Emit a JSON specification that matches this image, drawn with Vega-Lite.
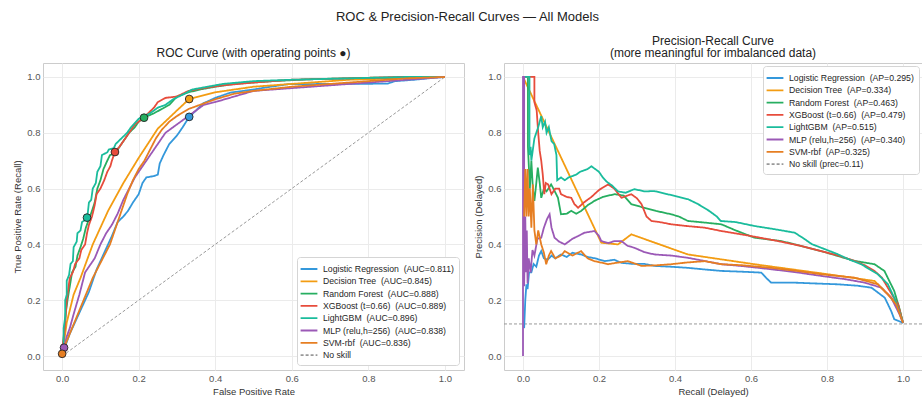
{
  "$schema": "https://vega.github.io/schema/vega-lite/v6.json",
  "background": "white",
  "padding": {"left": 12, "top": 11, "right": 0, "bottom": 0},
  "title": {"text": "ROC & Precision-Recall Curves — All Models", "fontSize": 13, "fontWeight": "normal", "color": "#222222", "anchor": "middle", "offset": 10},
  "config": {
    "font": "Liberation Sans",
    "view": {"stroke": "#cccccc", "strokeWidth": 1},
    "axis": {"labelFontSize": 9.5, "labelColor": "#555555", "titleFontSize": 9.5, "titleColor": "#333333", "titleFontWeight": "normal", "ticks": false, "domain": false, "gridColor": "#ebebeb", "labelPadding": 3, "titlePadding": 4},
    "legend": {"fillColor": "white", "strokeColor": "#d5d5d5", "cornerRadius": 3, "padding": 5, "labelFontSize": 8.7, "labelColor": "#262626", "symbolType": "M-1.4,0L1.4,0", "symbolSize": 144, "symbolStrokeWidth": 1.8, "rowPadding": 0.3, "labelOffset": 7, "labelLimit": 220},
    "title": {"fontSize": 12, "fontWeight": "normal", "color": "#222222"}
  },
  "datasets": {
    "roc": [
      {"m":"LR","x":0,"y":0},{"m":"LR","x":0.004,"y":0.02},{"m":"LR","x":0.012,"y":0.05},{"m":"LR","x":0.02,"y":0.08},{"m":"LR","x":0.03,"y":0.11},{"m":"LR","x":0.04,"y":0.14},{"m":"LR","x":0.05,"y":0.17},{"m":"LR","x":0.06,"y":0.2},{"m":"LR","x":0.07,"y":0.23},{"m":"LR","x":0.08,"y":0.27},{"m":"LR","x":0.09,"y":0.31},{"m":"LR","x":0.1,"y":0.34},{"m":"LR","x":0.11,"y":0.37},{"m":"LR","x":0.12,"y":0.4},{"m":"LR","x":0.13,"y":0.43},{"m":"LR","x":0.145,"y":0.48},{"m":"LR","x":0.16,"y":0.5},{"m":"LR","x":0.172,"y":0.52},{"m":"LR","x":0.185,"y":0.55},{"m":"LR","x":0.2,"y":0.58},{"m":"LR","x":0.21,"y":0.62},{"m":"LR","x":0.22,"y":0.64},{"m":"LR","x":0.24,"y":0.645},{"m":"LR","x":0.25,"y":0.65},{"m":"LR","x":0.255,"y":0.69},{"m":"LR","x":0.265,"y":0.72},{"m":"LR","x":0.28,"y":0.76},{"m":"LR","x":0.3,"y":0.79},{"m":"LR","x":0.315,"y":0.82},{"m":"LR","x":0.332,"y":0.857},{"m":"LR","x":0.35,"y":0.88},{"m":"LR","x":0.368,"y":0.905},{"m":"LR","x":0.4,"y":0.925},{"m":"LR","x":0.44,"y":0.944},{"m":"LR","x":0.5,"y":0.955},{"m":"LR","x":0.53,"y":0.962},{"m":"LR","x":0.59,"y":0.974},{"m":"LR","x":0.7,"y":0.975},{"m":"LR","x":0.85,"y":0.976},{"m":"LR","x":0.87,"y":0.985},{"m":"LR","x":0.92,"y":0.99},{"m":"LR","x":0.97,"y":0.997},{"m":"LR","x":1,"y":1},
      {"m":"DT","x":0,"y":0},{"m":"DT","x":0.005,"y":0.05},{"m":"DT","x":0.012,"y":0.12},{"m":"DT","x":0.03,"y":0.22},{"m":"DT","x":0.048,"y":0.28},{"m":"DT","x":0.08,"y":0.4},{"m":"DT","x":0.12,"y":0.52},{"m":"DT","x":0.16,"y":0.62},{"m":"DT","x":0.2,"y":0.71},{"m":"DT","x":0.25,"y":0.815},{"m":"DT","x":0.3,"y":0.88},{"m":"DT","x":0.332,"y":0.921},{"m":"DT","x":0.4,"y":0.945},{"m":"DT","x":0.5,"y":0.965},{"m":"DT","x":0.6,"y":0.975},{"m":"DT","x":0.75,"y":0.99},{"m":"DT","x":1,"y":1},
      {"m":"RF","x":0,"y":0},{"m":"RF","x":0.002,"y":0.04},{"m":"RF","x":0.006,"y":0.1},{"m":"RF","x":0.01,"y":0.16},{"m":"RF","x":0.014,"y":0.2},{"m":"RF","x":0.02,"y":0.25},{"m":"RF","x":0.026,"y":0.3},{"m":"RF","x":0.035,"y":0.32},{"m":"RF","x":0.04,"y":0.36},{"m":"RF","x":0.048,"y":0.39},{"m":"RF","x":0.055,"y":0.42},{"m":"RF","x":0.062,"y":0.46},{"m":"RF","x":0.07,"y":0.49},{"m":"RF","x":0.078,"y":0.52},{"m":"RF","x":0.085,"y":0.55},{"m":"RF","x":0.092,"y":0.6},{"m":"RF","x":0.1,"y":0.63},{"m":"RF","x":0.108,"y":0.67},{"m":"RF","x":0.118,"y":0.7},{"m":"RF","x":0.125,"y":0.72},{"m":"RF","x":0.135,"y":0.725},{"m":"RF","x":0.145,"y":0.74},{"m":"RF","x":0.16,"y":0.77},{"m":"RF","x":0.175,"y":0.8},{"m":"RF","x":0.19,"y":0.82},{"m":"RF","x":0.2,"y":0.84},{"m":"RF","x":0.214,"y":0.854},{"m":"RF","x":0.24,"y":0.87},{"m":"RF","x":0.26,"y":0.885},{"m":"RF","x":0.28,"y":0.9},{"m":"RF","x":0.3,"y":0.93},{"m":"RF","x":0.33,"y":0.945},{"m":"RF","x":0.36,"y":0.955},{"m":"RF","x":0.4,"y":0.965},{"m":"RF","x":0.45,"y":0.975},{"m":"RF","x":0.55,"y":0.985},{"m":"RF","x":0.65,"y":0.992},{"m":"RF","x":0.8,"y":0.997},{"m":"RF","x":1,"y":1},
      {"m":"XGB","x":0,"y":0},{"m":"XGB","x":0,"y":0.03},{"m":"XGB","x":0.004,"y":0.06},{"m":"XGB","x":0.008,"y":0.12},{"m":"XGB","x":0.012,"y":0.2},{"m":"XGB","x":0.016,"y":0.24},{"m":"XGB","x":0.02,"y":0.28},{"m":"XGB","x":0.028,"y":0.3},{"m":"XGB","x":0.034,"y":0.33},{"m":"XGB","x":0.045,"y":0.35},{"m":"XGB","x":0.05,"y":0.38},{"m":"XGB","x":0.06,"y":0.4},{"m":"XGB","x":0.065,"y":0.44},{"m":"XGB","x":0.07,"y":0.47},{"m":"XGB","x":0.078,"y":0.5},{"m":"XGB","x":0.085,"y":0.54},{"m":"XGB","x":0.09,"y":0.58},{"m":"XGB","x":0.1,"y":0.6},{"m":"XGB","x":0.11,"y":0.63},{"m":"XGB","x":0.118,"y":0.66},{"m":"XGB","x":0.126,"y":0.68},{"m":"XGB","x":0.13,"y":0.7},{"m":"XGB","x":0.138,"y":0.731},{"m":"XGB","x":0.15,"y":0.75},{"m":"XGB","x":0.16,"y":0.77},{"m":"XGB","x":0.175,"y":0.8},{"m":"XGB","x":0.19,"y":0.83},{"m":"XGB","x":0.21,"y":0.85},{"m":"XGB","x":0.225,"y":0.87},{"m":"XGB","x":0.24,"y":0.89},{"m":"XGB","x":0.25,"y":0.91},{"m":"XGB","x":0.27,"y":0.925},{"m":"XGB","x":0.3,"y":0.93},{"m":"XGB","x":0.33,"y":0.95},{"m":"XGB","x":0.37,"y":0.96},{"m":"XGB","x":0.42,"y":0.97},{"m":"XGB","x":0.5,"y":0.98},{"m":"XGB","x":0.6,"y":0.99},{"m":"XGB","x":0.75,"y":0.995},{"m":"XGB","x":0.88,"y":1},{"m":"XGB","x":1,"y":1},
      {"m":"LGBM","x":0,"y":0},{"m":"LGBM","x":0,"y":0.02},{"m":"LGBM","x":0.004,"y":0.04},{"m":"LGBM","x":0.004,"y":0.1},{"m":"LGBM","x":0.008,"y":0.14},{"m":"LGBM","x":0.008,"y":0.2},{"m":"LGBM","x":0.012,"y":0.22},{"m":"LGBM","x":0.012,"y":0.27},{"m":"LGBM","x":0.018,"y":0.29},{"m":"LGBM","x":0.022,"y":0.33},{"m":"LGBM","x":0.028,"y":0.34},{"m":"LGBM","x":0.03,"y":0.39},{"m":"LGBM","x":0.038,"y":0.41},{"m":"LGBM","x":0.04,"y":0.44},{"m":"LGBM","x":0.048,"y":0.45},{"m":"LGBM","x":0.052,"y":0.48},{"m":"LGBM","x":0.062,"y":0.49},{"m":"LGBM","x":0.066,"y":0.5},{"m":"LGBM","x":0.07,"y":0.55},{"m":"LGBM","x":0.076,"y":0.56},{"m":"LGBM","x":0.08,"y":0.6},{"m":"LGBM","x":0.088,"y":0.62},{"m":"LGBM","x":0.092,"y":0.66},{"m":"LGBM","x":0.1,"y":0.68},{"m":"LGBM","x":0.104,"y":0.72},{"m":"LGBM","x":0.118,"y":0.73},{"m":"LGBM","x":0.122,"y":0.74},{"m":"LGBM","x":0.135,"y":0.745},{"m":"LGBM","x":0.14,"y":0.76},{"m":"LGBM","x":0.155,"y":0.78},{"m":"LGBM","x":0.17,"y":0.8},{"m":"LGBM","x":0.18,"y":0.82},{"m":"LGBM","x":0.2,"y":0.85},{"m":"LGBM","x":0.23,"y":0.87},{"m":"LGBM","x":0.25,"y":0.89},{"m":"LGBM","x":0.27,"y":0.9},{"m":"LGBM","x":0.29,"y":0.92},{"m":"LGBM","x":0.32,"y":0.94},{"m":"LGBM","x":0.34,"y":0.955},{"m":"LGBM","x":0.38,"y":0.965},{"m":"LGBM","x":0.42,"y":0.975},{"m":"LGBM","x":0.5,"y":0.985},{"m":"LGBM","x":0.6,"y":0.99},{"m":"LGBM","x":0.75,"y":0.995},{"m":"LGBM","x":0.9,"y":1},{"m":"LGBM","x":1,"y":1},
      {"m":"MLP","x":0,"y":0},{"m":"MLP","x":0.005,"y":0.03},{"m":"MLP","x":0.012,"y":0.07},{"m":"MLP","x":0.02,"y":0.1},{"m":"MLP","x":0.03,"y":0.15},{"m":"MLP","x":0.045,"y":0.22},{"m":"MLP","x":0.06,"y":0.3},{"m":"MLP","x":0.07,"y":0.32},{"m":"MLP","x":0.085,"y":0.35},{"m":"MLP","x":0.1,"y":0.4},{"m":"MLP","x":0.115,"y":0.44},{"m":"MLP","x":0.13,"y":0.47},{"m":"MLP","x":0.145,"y":0.51},{"m":"MLP","x":0.16,"y":0.56},{"m":"MLP","x":0.175,"y":0.6},{"m":"MLP","x":0.19,"y":0.64},{"m":"MLP","x":0.205,"y":0.67},{"m":"MLP","x":0.22,"y":0.7},{"m":"MLP","x":0.24,"y":0.74},{"m":"MLP","x":0.255,"y":0.77},{"m":"MLP","x":0.27,"y":0.8},{"m":"MLP","x":0.29,"y":0.82},{"m":"MLP","x":0.31,"y":0.84},{"m":"MLP","x":0.34,"y":0.87},{"m":"MLP","x":0.37,"y":0.9},{"m":"MLP","x":0.4,"y":0.91},{"m":"MLP","x":0.45,"y":0.93},{"m":"MLP","x":0.5,"y":0.95},{"m":"MLP","x":0.6,"y":0.96},{"m":"MLP","x":0.7,"y":0.97},{"m":"MLP","x":0.8,"y":0.98},{"m":"MLP","x":0.9,"y":0.99},{"m":"MLP","x":1,"y":1},
      {"m":"SVM","x":0,"y":0},{"m":"SVM","x":0,"y":0.01},{"m":"SVM","x":0.008,"y":0.04},{"m":"SVM","x":0.02,"y":0.08},{"m":"SVM","x":0.035,"y":0.13},{"m":"SVM","x":0.05,"y":0.18},{"m":"SVM","x":0.065,"y":0.23},{"m":"SVM","x":0.08,"y":0.28},{"m":"SVM","x":0.095,"y":0.32},{"m":"SVM","x":0.11,"y":0.36},{"m":"SVM","x":0.125,"y":0.4},{"m":"SVM","x":0.14,"y":0.46},{"m":"SVM","x":0.155,"y":0.52},{"m":"SVM","x":0.17,"y":0.58},{"m":"SVM","x":0.185,"y":0.63},{"m":"SVM","x":0.2,"y":0.67},{"m":"SVM","x":0.215,"y":0.7},{"m":"SVM","x":0.23,"y":0.74},{"m":"SVM","x":0.245,"y":0.78},{"m":"SVM","x":0.26,"y":0.81},{"m":"SVM","x":0.28,"y":0.84},{"m":"SVM","x":0.3,"y":0.86},{"m":"SVM","x":0.33,"y":0.885},{"m":"SVM","x":0.36,"y":0.9},{"m":"SVM","x":0.4,"y":0.92},{"m":"SVM","x":0.45,"y":0.94},{"m":"SVM","x":0.5,"y":0.95},{"m":"SVM","x":0.6,"y":0.965},{"m":"SVM","x":0.7,"y":0.975},{"m":"SVM","x":0.8,"y":0.985},{"m":"SVM","x":0.9,"y":0.995},{"m":"SVM","x":1,"y":1}
    ],
    "rocns": [{"m":"NS","x":0,"y":0},{"m":"NS","x":1,"y":1}],
    "ops": [
      {"m":"LR","x":0.332,"y":0.857},{"m":"DT","x":0.332,"y":0.921},{"m":"RF","x":0.214,"y":0.854},{"m":"XGB","x":0.138,"y":0.731},{"m":"LGBM","x":0.065,"y":0.496},{"m":"MLP","x":0.005,"y":0.03},{"m":"SVM","x":0,"y":0.008}
    ],
    "pr": [
      {"m":"LR","x":0.003,"y":0.1},{"m":"LR","x":0.006,"y":0.2},{"m":"LR","x":0.009,"y":0.257},{"m":"LR","x":0.012,"y":0.24},{"m":"LR","x":0.016,"y":0.3},{"m":"LR","x":0.022,"y":0.3},{"m":"LR","x":0.028,"y":0.33},{"m":"LR","x":0.035,"y":0.32},{"m":"LR","x":0.042,"y":0.36},{"m":"LR","x":0.048,"y":0.376},{"m":"LR","x":0.055,"y":0.35},{"m":"LR","x":0.065,"y":0.345},{"m":"LR","x":0.075,"y":0.36},{"m":"LR","x":0.085,"y":0.35},{"m":"LR","x":0.1,"y":0.364},{"m":"LR","x":0.115,"y":0.355},{"m":"LR","x":0.13,"y":0.37},{"m":"LR","x":0.153,"y":0.364},{"m":"LR","x":0.17,"y":0.355},{"m":"LR","x":0.19,"y":0.35},{"m":"LR","x":0.215,"y":0.34},{"m":"LR","x":0.24,"y":0.345},{"m":"LR","x":0.259,"y":0.334},{"m":"LR","x":0.29,"y":0.33},{"m":"LR","x":0.32,"y":0.33},{"m":"LR","x":0.346,"y":0.323},{"m":"LR","x":0.39,"y":0.32},{"m":"LR","x":0.434,"y":0.316},{"m":"LR","x":0.48,"y":0.31},{"m":"LR","x":0.522,"y":0.305},{"m":"LR","x":0.58,"y":0.302},{"m":"LR","x":0.627,"y":0.299},{"m":"LR","x":0.64,"y":0.28},{"m":"LR","x":0.653,"y":0.263},{"m":"LR","x":0.714,"y":0.263},{"m":"LR","x":0.77,"y":0.26},{"m":"LR","x":0.829,"y":0.257},{"m":"LR","x":0.88,"y":0.252},{"m":"LR","x":0.917,"y":0.245},{"m":"LR","x":0.952,"y":0.209},{"m":"LR","x":0.969,"y":0.161},{"m":"LR","x":0.977,"y":0.132},{"m":"LR","x":1,"y":0.119},
      {"m":"DT","x":0,"y":1},{"m":"DT","x":0.206,"y":0.406},{"m":"DT","x":0.25,"y":0.4},{"m":"DT","x":0.285,"y":0.436},{"m":"DT","x":0.434,"y":0.364},{"m":"DT","x":0.609,"y":0.329},{"m":"DT","x":0.803,"y":0.293},{"m":"DT","x":0.925,"y":0.269},{"m":"DT","x":0.987,"y":0.185},{"m":"DT","x":1,"y":0.119},
      {"m":"RF","x":0,"y":1},{"m":"RF","x":0.013,"y":1},{"m":"RF","x":0.013,"y":0.75},{"m":"RF","x":0.018,"y":0.6},{"m":"RF","x":0.022,"y":0.7},{"m":"RF","x":0.026,"y":0.6},{"m":"RF","x":0.03,"y":0.556},{"m":"RF","x":0.035,"y":0.62},{"m":"RF","x":0.039,"y":0.675},{"m":"RF","x":0.044,"y":0.62},{"m":"RF","x":0.048,"y":0.567},{"m":"RF","x":0.055,"y":0.6},{"m":"RF","x":0.062,"y":0.59},{"m":"RF","x":0.074,"y":0.615},{"m":"RF","x":0.08,"y":0.6},{"m":"RF","x":0.092,"y":0.567},{"m":"RF","x":0.1,"y":0.508},{"m":"RF","x":0.115,"y":0.51},{"m":"RF","x":0.127,"y":0.52},{"m":"RF","x":0.14,"y":0.51},{"m":"RF","x":0.153,"y":0.52},{"m":"RF","x":0.17,"y":0.54},{"m":"RF","x":0.188,"y":0.556},{"m":"RF","x":0.21,"y":0.57},{"m":"RF","x":0.241,"y":0.58},{"m":"RF","x":0.265,"y":0.575},{"m":"RF","x":0.285,"y":0.544},{"m":"RF","x":0.32,"y":0.531},{"m":"RF","x":0.35,"y":0.52},{"m":"RF","x":0.39,"y":0.508},{"m":"RF","x":0.41,"y":0.5},{"m":"RF","x":0.434,"y":0.484},{"m":"RF","x":0.48,"y":0.478},{"m":"RF","x":0.522,"y":0.472},{"m":"RF","x":0.56,"y":0.45},{"m":"RF","x":0.609,"y":0.424},{"m":"RF","x":0.68,"y":0.412},{"m":"RF","x":0.73,"y":0.395},{"m":"RF","x":0.785,"y":0.376},{"m":"RF","x":0.872,"y":0.341},{"m":"RF","x":0.925,"y":0.329},{"m":"RF","x":0.951,"y":0.305},{"m":"RF","x":0.977,"y":0.233},{"m":"RF","x":0.99,"y":0.173},{"m":"RF","x":1,"y":0.119},
      {"m":"XGB","x":0,"y":1},{"m":"XGB","x":0.03,"y":1},{"m":"XGB","x":0.03,"y":0.91},{"m":"XGB","x":0.036,"y":0.88},{"m":"XGB","x":0.04,"y":0.8},{"m":"XGB","x":0.044,"y":0.735},{"m":"XGB","x":0.048,"y":0.7},{"m":"XGB","x":0.052,"y":0.65},{"m":"XGB","x":0.056,"y":0.58},{"m":"XGB","x":0.06,"y":0.62},{"m":"XGB","x":0.066,"y":0.615},{"m":"XGB","x":0.075,"y":0.58},{"m":"XGB","x":0.085,"y":0.6},{"m":"XGB","x":0.095,"y":0.6},{"m":"XGB","x":0.1,"y":0.58},{"m":"XGB","x":0.115,"y":0.57},{"m":"XGB","x":0.127,"y":0.567},{"m":"XGB","x":0.135,"y":0.545},{"m":"XGB","x":0.145,"y":0.531},{"m":"XGB","x":0.16,"y":0.55},{"m":"XGB","x":0.18,"y":0.57},{"m":"XGB","x":0.2,"y":0.595},{"m":"XGB","x":0.224,"y":0.615},{"m":"XGB","x":0.24,"y":0.6},{"m":"XGB","x":0.259,"y":0.567},{"m":"XGB","x":0.285,"y":0.58},{"m":"XGB","x":0.3,"y":0.565},{"m":"XGB","x":0.312,"y":0.544},{"m":"XGB","x":0.325,"y":0.5},{"m":"XGB","x":0.338,"y":0.484},{"m":"XGB","x":0.36,"y":0.48},{"m":"XGB","x":0.39,"y":0.472},{"m":"XGB","x":0.43,"y":0.466},{"m":"XGB","x":0.478,"y":0.46},{"m":"XGB","x":0.522,"y":0.448},{"m":"XGB","x":0.6,"y":0.43},{"m":"XGB","x":0.671,"y":0.412},{"m":"XGB","x":0.73,"y":0.395},{"m":"XGB","x":0.785,"y":0.376},{"m":"XGB","x":0.83,"y":0.36},{"m":"XGB","x":0.872,"y":0.341},{"m":"XGB","x":0.9,"y":0.325},{"m":"XGB","x":0.925,"y":0.305},{"m":"XGB","x":0.945,"y":0.28},{"m":"XGB","x":0.96,"y":0.245},{"m":"XGB","x":0.987,"y":0.185},{"m":"XGB","x":1,"y":0.119},
      {"m":"LGBM","x":0,"y":1},{"m":"LGBM","x":0.017,"y":1},{"m":"LGBM","x":0.017,"y":0.72},{"m":"LGBM","x":0.02,"y":0.75},{"m":"LGBM","x":0.022,"y":0.7},{"m":"LGBM","x":0.03,"y":0.78},{"m":"LGBM","x":0.04,"y":0.82},{"m":"LGBM","x":0.048,"y":0.86},{"m":"LGBM","x":0.052,"y":0.82},{"m":"LGBM","x":0.058,"y":0.84},{"m":"LGBM","x":0.062,"y":0.8},{"m":"LGBM","x":0.068,"y":0.82},{"m":"LGBM","x":0.075,"y":0.77},{"m":"LGBM","x":0.082,"y":0.76},{"m":"LGBM","x":0.088,"y":0.72},{"m":"LGBM","x":0.09,"y":0.63},{"m":"LGBM","x":0.1,"y":0.64},{"m":"LGBM","x":0.11,"y":0.63},{"m":"LGBM","x":0.12,"y":0.64},{"m":"LGBM","x":0.13,"y":0.645},{"m":"LGBM","x":0.14,"y":0.65},{"m":"LGBM","x":0.15,"y":0.66},{"m":"LGBM","x":0.16,"y":0.665},{"m":"LGBM","x":0.17,"y":0.67},{"m":"LGBM","x":0.18,"y":0.68},{"m":"LGBM","x":0.19,"y":0.67},{"m":"LGBM","x":0.2,"y":0.66},{"m":"LGBM","x":0.21,"y":0.64},{"m":"LGBM","x":0.22,"y":0.625},{"m":"LGBM","x":0.235,"y":0.61},{"m":"LGBM","x":0.25,"y":0.59},{"m":"LGBM","x":0.27,"y":0.585},{"m":"LGBM","x":0.293,"y":0.598},{"m":"LGBM","x":0.32,"y":0.59},{"m":"LGBM","x":0.346,"y":0.591},{"m":"LGBM","x":0.38,"y":0.58},{"m":"LGBM","x":0.41,"y":0.57},{"m":"LGBM","x":0.434,"y":0.562},{"m":"LGBM","x":0.46,"y":0.545},{"m":"LGBM","x":0.49,"y":0.52},{"m":"LGBM","x":0.51,"y":0.5},{"m":"LGBM","x":0.52,"y":0.484},{"m":"LGBM","x":0.56,"y":0.48},{"m":"LGBM","x":0.609,"y":0.466},{"m":"LGBM","x":0.66,"y":0.455},{"m":"LGBM","x":0.715,"y":0.442},{"m":"LGBM","x":0.74,"y":0.42},{"m":"LGBM","x":0.76,"y":0.401},{"m":"LGBM","x":0.8,"y":0.38},{"m":"LGBM","x":0.828,"y":0.365},{"m":"LGBM","x":0.86,"y":0.345},{"m":"LGBM","x":0.89,"y":0.329},{"m":"LGBM","x":0.913,"y":0.31},{"m":"LGBM","x":0.933,"y":0.294},{"m":"LGBM","x":0.96,"y":0.258},{"m":"LGBM","x":0.977,"y":0.209},{"m":"LGBM","x":0.99,"y":0.16},{"m":"LGBM","x":1,"y":0.119},
      {"m":"MLP","x":0,"y":0},{"m":"MLP","x":0,"y":1},{"m":"MLP","x":0.003,"y":1},{"m":"MLP","x":0.003,"y":0.25},{"m":"MLP","x":0.006,"y":0.5},{"m":"MLP","x":0.008,"y":0.3},{"m":"MLP","x":0.01,"y":0.45},{"m":"MLP","x":0.012,"y":0.26},{"m":"MLP","x":0.015,"y":0.35},{"m":"MLP","x":0.02,"y":0.3},{"m":"MLP","x":0.025,"y":0.38},{"m":"MLP","x":0.03,"y":0.36},{"m":"MLP","x":0.038,"y":0.42},{"m":"MLP","x":0.048,"y":0.424},{"m":"MLP","x":0.055,"y":0.46},{"m":"MLP","x":0.063,"y":0.49},{"m":"MLP","x":0.07,"y":0.508},{"m":"MLP","x":0.075,"y":0.46},{"m":"MLP","x":0.083,"y":0.424},{"m":"MLP","x":0.095,"y":0.41},{"m":"MLP","x":0.11,"y":0.4},{"m":"MLP","x":0.13,"y":0.42},{"m":"MLP","x":0.145,"y":0.43},{"m":"MLP","x":0.162,"y":0.442},{"m":"MLP","x":0.175,"y":0.445},{"m":"MLP","x":0.188,"y":0.448},{"m":"MLP","x":0.2,"y":0.43},{"m":"MLP","x":0.206,"y":0.412},{"m":"MLP","x":0.225,"y":0.405},{"m":"MLP","x":0.241,"y":0.412},{"m":"MLP","x":0.259,"y":0.412},{"m":"MLP","x":0.275,"y":0.395},{"m":"MLP","x":0.293,"y":0.388},{"m":"MLP","x":0.32,"y":0.372},{"m":"MLP","x":0.346,"y":0.364},{"m":"MLP","x":0.39,"y":0.36},{"m":"MLP","x":0.434,"y":0.352},{"m":"MLP","x":0.48,"y":0.34},{"m":"MLP","x":0.522,"y":0.329},{"m":"MLP","x":0.58,"y":0.322},{"m":"MLP","x":0.653,"y":0.311},{"m":"MLP","x":0.72,"y":0.3},{"m":"MLP","x":0.785,"y":0.287},{"m":"MLP","x":0.85,"y":0.275},{"m":"MLP","x":0.899,"y":0.263},{"m":"MLP","x":0.943,"y":0.245},{"m":"MLP","x":0.969,"y":0.209},{"m":"MLP","x":0.991,"y":0.149},{"m":"MLP","x":1,"y":0.119},
      {"m":"SVM","x":0.003,"y":0.5},{"m":"SVM","x":0.006,"y":0.67},{"m":"SVM","x":0.009,"y":0.5},{"m":"SVM","x":0.012,"y":0.67},{"m":"SVM","x":0.015,"y":0.5},{"m":"SVM","x":0.018,"y":0.6},{"m":"SVM","x":0.022,"y":0.46},{"m":"SVM","x":0.026,"y":0.615},{"m":"SVM","x":0.03,"y":0.45},{"m":"SVM","x":0.035,"y":0.4},{"m":"SVM","x":0.04,"y":0.45},{"m":"SVM","x":0.048,"y":0.4},{"m":"SVM","x":0.055,"y":0.37},{"m":"SVM","x":0.061,"y":0.329},{"m":"SVM","x":0.068,"y":0.36},{"m":"SVM","x":0.074,"y":0.376},{"m":"SVM","x":0.085,"y":0.35},{"m":"SVM","x":0.1,"y":0.36},{"m":"SVM","x":0.11,"y":0.376},{"m":"SVM","x":0.13,"y":0.36},{"m":"SVM","x":0.153,"y":0.376},{"m":"SVM","x":0.17,"y":0.35},{"m":"SVM","x":0.188,"y":0.34},{"m":"SVM","x":0.205,"y":0.335},{"m":"SVM","x":0.224,"y":0.329},{"m":"SVM","x":0.25,"y":0.335},{"m":"SVM","x":0.276,"y":0.34},{"m":"SVM","x":0.312,"y":0.323},{"m":"SVM","x":0.35,"y":0.325},{"m":"SVM","x":0.39,"y":0.329},{"m":"SVM","x":0.43,"y":0.335},{"m":"SVM","x":0.478,"y":0.34},{"m":"SVM","x":0.522,"y":0.329},{"m":"SVM","x":0.58,"y":0.325},{"m":"SVM","x":0.653,"y":0.316},{"m":"SVM","x":0.72,"y":0.305},{"m":"SVM","x":0.785,"y":0.293},{"m":"SVM","x":0.872,"y":0.281},{"m":"SVM","x":0.934,"y":0.257},{"m":"SVM","x":0.96,"y":0.221},{"m":"SVM","x":0.982,"y":0.185},{"m":"SVM","x":0.995,"y":0.137},{"m":"SVM","x":1,"y":0.119}
    ],
    "prns": [{"m":"NS","x":-0.05,"y":0.115},{"m":"NS","x":1.05,"y":0.115}]
  },
  "resolve": {"scale": {"x": "independent", "y": "independent", "color": "independent", "strokeDash": "independent", "fill": "independent"}, "legend": {"color": "independent", "strokeDash": "independent"}},
  "spacing": 8,
  "hconcat": [
    {
      "width": 421, "height": 307,
      "title": {"text": "ROC Curve (with operating points ●)", "offset": 3},
      "encoding": {
        "x": {"field": "x", "type": "quantitative", "scale": {"domain": [-0.05, 1.05], "nice": false, "zero": false}, "axis": {"title": "False Positive Rate", "values": [0, 0.2, 0.4, 0.6, 0.8, 1], "format": ".1f"}},
        "y": {"field": "y", "type": "quantitative", "scale": {"domain": [-0.05, 1.05], "nice": false, "zero": false}, "axis": {"title": "True Positive Rate (Recall)", "values": [0, 0.2, 0.4, 0.6, 0.8, 1], "format": ".1f"}}
      },
      "layer": [
        {
          "data": {"name": "rocns"},
          "mark": {"type": "line", "strokeWidth": 1, "clip": true},
          "encoding": {
            "order": {"value": null},
            "color": {"field": "m", "type": "nominal", "scale": {"domain": ["LR","DT","RF","XGB","LGBM","MLP","SVM","NS"], "range": ["#3498db","#f39c12","#27ae60","#e74c3c","#1abc9c","#9b59b6","#e67e22","#999999"]}, "legend": {"title": null, "orient": "bottom-right", "offset": 5, "labelExpr": "{'LR':'Logistic Regression\u00a0 (AUC=0.811)','DT':'Decision Tree\u00a0 (AUC=0.845)','RF':'Random Forest\u00a0 (AUC=0.888)','XGB':'XGBoost (t=0.66)\u00a0 (AUC=0.889)','LGBM':'LightGBM\u00a0 (AUC=0.896)','MLP':'MLP (relu,h=256)\u00a0 (AUC=0.838)','SVM':'SVM-rbf\u00a0 (AUC=0.836)','NS':'No skill'}[datum.label]"}},
            "strokeDash": {"field": "m", "type": "nominal", "scale": {"domain": ["LR","DT","RF","XGB","LGBM","MLP","SVM","NS"], "range": [[1,0],[1,0],[1,0],[1,0],[1,0],[1,0],[1,0],[3,2]]}, "legend": {"title": null, "orient": "bottom-right", "offset": 5, "labelExpr": "{'LR':'Logistic Regression\u00a0 (AUC=0.811)','DT':'Decision Tree\u00a0 (AUC=0.845)','RF':'Random Forest\u00a0 (AUC=0.888)','XGB':'XGBoost (t=0.66)\u00a0 (AUC=0.889)','LGBM':'LightGBM\u00a0 (AUC=0.896)','MLP':'MLP (relu,h=256)\u00a0 (AUC=0.838)','SVM':'SVM-rbf\u00a0 (AUC=0.836)','NS':'No skill'}[datum.label]"}}
          }
        },
        {
          "data": {"name": "roc"},
          "mark": {"type": "line", "strokeWidth": 1.8, "clip": true},
          "encoding": {
            "order": {"value": null},
            "color": {"field": "m", "type": "nominal"},
            "strokeDash": {"field": "m", "type": "nominal"}
          }
        },
        {
          "data": {"name": "ops"},
          "mark": {"type": "point", "filled": false, "size": 60, "stroke": "#222222", "strokeWidth": 0.9, "opacity": 1, "shape": "circle"},
          "encoding": {
            "fill": {"field": "m", "type": "nominal", "scale": {"domain": ["LR","DT","RF","XGB","LGBM","MLP","SVM"], "range": ["#3498db","#f39c12","#27ae60","#e74c3c","#1abc9c","#9b59b6","#e67e22"]}, "legend": null}
          }
        }
      ]
    },
    {
      "width": 418, "height": 307,
      "title": {"text": ["Precision-Recall Curve", "(more meaningful for imbalanced data)"], "offset": 3, "lineHeight": 12.5},
      "encoding": {
        "x": {"field": "x", "type": "quantitative", "scale": {"domain": [-0.05, 1.05], "nice": false, "zero": false}, "axis": {"title": "Recall (Delayed)", "values": [0, 0.2, 0.4, 0.6, 0.8, 1], "format": ".1f"}},
        "y": {"field": "y", "type": "quantitative", "scale": {"domain": [-0.05, 1.05], "nice": false, "zero": false}, "axis": {"title": "Precision (Delayed)", "values": [0, 0.2, 0.4, 0.6, 0.8, 1], "format": ".1f"}}
      },
      "layer": [
        {
          "data": {"name": "prns"},
          "mark": {"type": "line", "strokeWidth": 1, "clip": true},
          "encoding": {
            "order": {"value": null},
            "color": {"field": "m", "type": "nominal", "scale": {"domain": ["LR","DT","RF","XGB","LGBM","MLP","SVM","NS"], "range": ["#3498db","#f39c12","#27ae60","#e74c3c","#1abc9c","#9b59b6","#e67e22","#999999"]}, "legend": {"title": null, "orient": "top-right", "offset": 3, "labelExpr": "{'LR':'Logistic Regression\u00a0 (AP=0.295)','DT':'Decision Tree\u00a0 (AP=0.334)','RF':'Random Forest\u00a0 (AP=0.463)','XGB':'XGBoost (t=0.66)\u00a0 (AP=0.479)','LGBM':'LightGBM\u00a0 (AP=0.515)','MLP':'MLP (relu,h=256)\u00a0 (AP=0.340)','SVM':'SVM-rbf\u00a0 (AP=0.325)','NS':'No skill (prec=0.11)'}[datum.label]"}},
            "strokeDash": {"field": "m", "type": "nominal", "scale": {"domain": ["LR","DT","RF","XGB","LGBM","MLP","SVM","NS"], "range": [[1,0],[1,0],[1,0],[1,0],[1,0],[1,0],[1,0],[3,2]]}, "legend": {"title": null, "orient": "top-right", "offset": 3, "labelExpr": "{'LR':'Logistic Regression\u00a0 (AP=0.295)','DT':'Decision Tree\u00a0 (AP=0.334)','RF':'Random Forest\u00a0 (AP=0.463)','XGB':'XGBoost (t=0.66)\u00a0 (AP=0.479)','LGBM':'LightGBM\u00a0 (AP=0.515)','MLP':'MLP (relu,h=256)\u00a0 (AP=0.340)','SVM':'SVM-rbf\u00a0 (AP=0.325)','NS':'No skill (prec=0.11)'}[datum.label]"}}
          }
        },
        {
          "data": {"name": "pr"},
          "mark": {"type": "line", "strokeWidth": 1.8, "clip": true},
          "encoding": {
            "order": {"value": null},
            "color": {"field": "m", "type": "nominal"},
            "strokeDash": {"field": "m", "type": "nominal"}
          }
        }
      ]
    }
  ]
}
